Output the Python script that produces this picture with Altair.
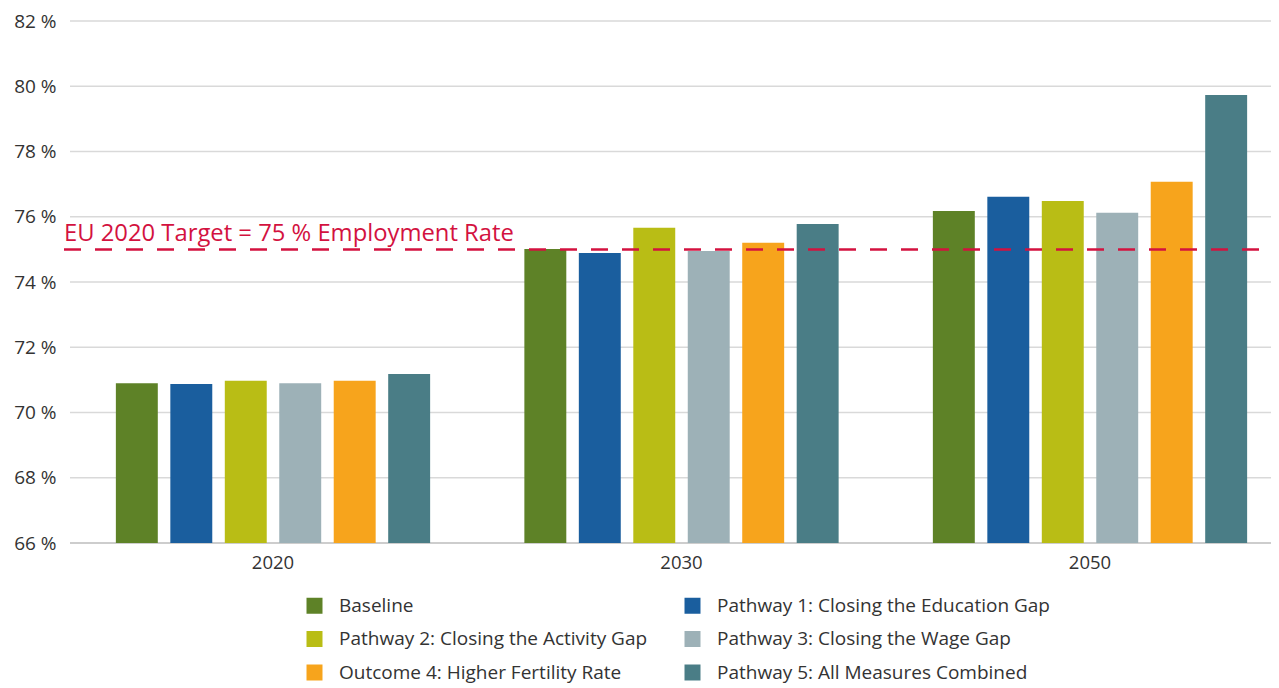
import altair as alt
import pandas as pd

years = ["2020", "2030", "2050"]
series = [
    "Baseline",
    "Pathway 1: Closing the Education Gap",
    "Pathway 2: Closing the Activity Gap",
    "Pathway 3: Closing the Wage Gap",
    "Outcome 4: Higher Fertility Rate",
    "Pathway 5: All Measures Combined",
]
colors = ["#5e8227", "#1a5e9e", "#b9bd15", "#9db1b7", "#f7a41c", "#4a7d86"]

values_2020 = [70.90, 70.87, 70.97, 70.90, 70.97, 71.18]
values_2030 = [75.01, 74.89, 75.66, 74.95, 75.20, 75.78]
values_2050 = [76.18, 76.61, 76.48, 76.12, 77.07, 79.73]

target_value = 75
target_label = "EU 2020 Target = 75 % Employment Rate"
y_ticks = [66, 68, 70, 72, 74, 76, 78, 80, 82]
y_base = 66

rows = []
for yr, vals in zip(years, [values_2020, values_2030, values_2050]):
    for i, (s, v) in enumerate(zip(series, vals)):
        rows.append({"year": yr, "series": s, "order": i, "value": v})
df = pd.DataFrame(rows)

# legend is filled column by column: reorder so it reads row by row
legend_order = [0, 2, 4, 1, 3, 5]
legend_domain = [series[i] for i in legend_order]
legend_colors = [colors[i] for i in legend_order]

W = 1201
H = 522
FONT = "Open Sans"

y_scale = alt.Scale(domain=[66, 82], nice=False, zero=False)

grid_df = pd.DataFrame({"value": y_ticks})
grid = alt.Chart(grid_df).mark_rule(strokeWidth=1.5).encode(
    y=alt.Y("value:Q", title=None, scale=y_scale,
            axis=alt.Axis(values=y_ticks, labelExpr="datum.value + ' %'",
                          labelFontSize=19, labelColor="#333333", labelFont=FONT,
                          ticks=False, domain=False, labelPadding=14, grid=False)),
    x=alt.value(0),
    x2=alt.value(W),
    color=alt.condition("datum.value == 66", alt.value("#bdbdbd"), alt.value("#d9d9d9")),
)

bars = alt.Chart(df).mark_bar().encode(
    x=alt.X("year:N", sort=years, title=None,
            scale=alt.Scale(range=[39.6, 1183.4], paddingInner=0.2, paddingOuter=0),
            axis=alt.Axis(labelAngle=0, labelFontSize=18.5, labelColor="#333333",
                          labelFont=FONT, ticks=False, labelPadding=10,
                          domain=False, grid=False)),
    xOffset=alt.XOffset("series:N", sort=series,
                        scale=alt.Scale(paddingInner=0.23, paddingOuter=0.115)),
    y=alt.Y("value:Q", title=None, scale=y_scale),
    y2=alt.datum(y_base),
    color=alt.Color("series:N",
                    scale=alt.Scale(domain=legend_domain, range=legend_colors),
                    legend=alt.Legend(title=None, orient="none", legendX=235, legendY=575,
                                      columns=2, symbolType="square", symbolSize=256,
                                      symbolStrokeWidth=0, labelFontSize=19,
                                      labelFont=FONT, labelColor="#333333",
                                      labelOffset=15, rowPadding=13.5, columnPadding=35,
                                      labelLimit=500, padding=0)),
)

target_df = pd.DataFrame({"value": [target_value], "label": [target_label]})

rule = alt.Chart(target_df).mark_rule(color="#d3123f", strokeWidth=2.5,
                                      strokeDash=[17, 14]).encode(
    y=alt.Y("value:Q", title=None),
    x=alt.value(-6),
    x2=alt.value(W),
)

text = alt.Chart(target_df).mark_text(color="#d3123f", fontSize=23.8, font=FONT,
                                      align="left", baseline="alphabetic",
                                      dy=-8).encode(
    y=alt.Y("value:Q", title=None),
    x=alt.value(-6),
    text="label:N",
)

chart = alt.layer(grid, bars, rule, text).properties(
    width=W, height=H,
    autosize=alt.AutoSizeParams(type="none"),
    padding={"left": 62, "top": 13, "right": 0, "bottom": 150},
).configure_view(stroke=None)

chart.save("out.html", embed_options={"renderer": "svg", "actions": False})
